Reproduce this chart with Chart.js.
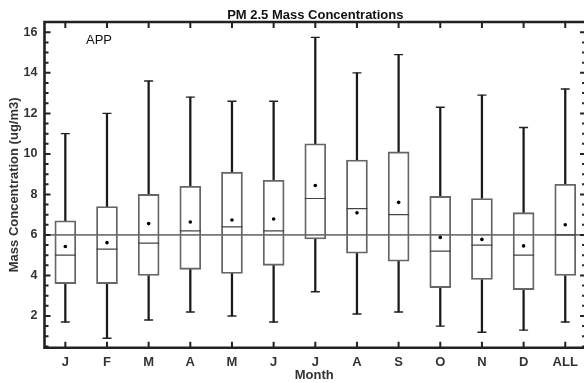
<!DOCTYPE html>
<html>
<head>
<meta charset="utf-8">
<script src="https://cdn.jsdelivr.net/npm/chart.js@4"></script>
<style>
  html, body { margin: 0; padding: 0; background: #fff; overflow: hidden; }
  #wrap { width: 584px; height: 383px; }
  canvas { display: block; }
</style>
</head>
<body>
<div id="wrap"><canvas id="pm_chart" width="584" height="383"></canvas></div>
<script>
// box plot values per month (ug/m3)
var months = ['J', 'F', 'M', 'A', 'M', 'J', 'J', 'A', 'S', 'O', 'N', 'D', 'ALL'];
var whiskerLow  = [1.7, 0.9, 1.8, 2.2, 2.0, 1.7, 3.2, 2.1, 2.2, 1.5, 1.2, 1.3, 1.7];
var q1          = [3.6, 3.6, 4.0, 4.3, 4.1, 4.5, 5.8, 5.1, 4.7, 3.4, 3.8, 3.3, 4.0];
var median      = [5.0, 5.3, 5.6, 6.2, 6.4, 6.2, 7.8, 7.3, 7.0, 5.2, 5.5, 5.0, 6.0];
var q3          = [6.7, 7.4, 8.0, 8.4, 9.1, 8.7, 10.5, 9.7, 10.1, 7.9, 7.8, 7.1, 8.5];
var whiskerHigh = [11.0, 12.0, 13.6, 12.8, 12.6, 12.6, 15.75, 14.0, 14.9, 12.3, 12.9, 11.3, 13.2];
var mean        = [5.43, 5.62, 6.56, 6.64, 6.74, 6.79, 8.44, 7.09, 7.61, 5.88, 5.78, 5.46, 6.5];
var refLevel = 6;
var yTicks = [2, 4, 6, 8, 10, 12, 14, 16];

var FONT = "'Liberation Sans', Arial, sans-serif";

function pts(vals) {
    return vals.map(function(v, i){ return {x: i + 1, y: v}; });
}
function ranges(lo, hi) {
    return lo.map(function(v, i){ return {x: i + 1, y: [v, hi[i]]}; });
}

// frame, inward ticks, title and site label
// (the right edge of the original frame sits just past the picture, at x = 13.5)
var framePlugin = {
    id: 'frame',
    afterDatasetsDraw: function(chart) {
        var ctx = chart.ctx, a = chart.chartArea;
        var xs = chart.scales.x, ys = chart.scales.y;
        var right = xs.getPixelForValue(13.5);
        ctx.save();
        ctx.strokeStyle = '#222';
        ctx.lineWidth = 2;
        ctx.beginPath();
        for (var v = 0.5; v <= 16.5; v += 0.5) {
            var py = ys.getPixelForValue(v);
            if (py < a.top + 1 || py > a.bottom - 1) continue;
            var len = (v % 2 === 0) ? 6 : 4;
            ctx.moveTo(a.left, py); ctx.lineTo(a.left + len, py);
            ctx.moveTo(right, py); ctx.lineTo(right - len, py);
        }
        months.forEach(function(m, i){
            var px = xs.getPixelForValue(i + 1);
            ctx.moveTo(px, a.bottom); ctx.lineTo(px, a.bottom - 6);
            ctx.moveTo(px, a.top); ctx.lineTo(px, a.top + 6);
        });
        ctx.stroke();
        ctx.lineWidth = 2.6;
        ctx.beginPath();
        ctx.moveTo(right, a.top); ctx.lineTo(a.left, a.top);
        ctx.lineTo(a.left, a.bottom); ctx.lineTo(right, a.bottom);
        ctx.lineTo(right, a.top);
        ctx.stroke();

        ctx.fillStyle = '#111';
        ctx.textAlign = 'center';
        ctx.textBaseline = 'alphabetic';
        ctx.font = 'bold 13px ' + FONT;
        ctx.fillText('PM 2.5 Mass Concentrations', (a.left + right) / 2, 18.5);
        ctx.textAlign = 'left';
        ctx.font = '13px ' + FONT;
        ctx.fillText('APP', 86, 44);
        ctx.restore();
    }
};

var ctx = document.getElementById('pm_chart').getContext('2d');
var pm_chart = new Chart(ctx, {
    type: 'bar',
    data: {
        datasets: [{
            type: 'line',
            data: [{x: 0.5, y: refLevel}, {x: 13.5, y: refLevel}],
            borderColor: '#111',
            borderWidth: 1,
            pointRadius: 0,
            order: 5
        },{
            data: ranges(q3, whiskerHigh),
            backgroundColor: '#1a1a1a',
            barThickness: 1.6,
            grouped: false,
            order: 4
        },{
            data: ranges(whiskerLow, q1),
            backgroundColor: '#1a1a1a',
            barThickness: 1.6,
            grouped: false,
            order: 4
        },{
            data: ranges(q1, q3),
            backgroundColor: 'rgba(0,0,0,0)',
            borderColor: '#666',
            borderWidth: 1.2,
            borderSkipped: false,
            barThickness: 21,
            grouped: false,
            order: 3
        },{
            type: 'line',
            showLine: false,
            data: pts(whiskerHigh).concat(pts(whiskerLow)),
            pointStyle: 'line',
            pointRadius: 4.5,
            borderColor: '#222',
            borderWidth: 1.4,
            order: 2
        },{
            type: 'line',
            showLine: false,
            data: pts(median),
            pointStyle: 'line',
            pointRadius: 10.5,
            borderColor: '#444',
            borderWidth: 1.2,
            order: 2
        },{
            type: 'line',
            showLine: false,
            data: pts(mean),
            pointStyle: 'circle',
            pointRadius: 1.8,
            backgroundColor: '#000',
            borderColor: '#000',
            borderWidth: 0,
            order: 1
        }]
    },
    options: {
        responsive: false,
        animation: false,
        devicePixelRatio: 1,
        layout: { autoPadding: false, padding: { top: 22, right: 0, left: 0, bottom: 0 } },
        plugins: {
            legend: { display: false },
            tooltip: { enabled: false }
        },
        scales: {
            x: {
                type: 'linear',
                offset: false,
                min: 0.5,
                max: 13.45,
                grid: { display: false, drawTicks: false, offset: false },
                border: { display: false },
                afterBuildTicks: function(s){ s.ticks = months.map(function(m, i){ return {value: i + 1}; }); },
                afterFit: function(s){ s.height = 35.3; s.paddingLeft = 0; s.paddingRight = 0; },
                ticks: {
                    autoSkip: false,
                    maxRotation: 0,
                    padding: 7,
                    color: '#333',
                    font: { family: FONT, size: 13, weight: 'bold' },
                    callback: function(v){ return months[Math.round(v) - 1]; }
                },
                title: {
                    display: true,
                    text: 'Month',
                    color: '#333',
                    padding: 0,
                    font: { family: FONT, size: 13, weight: 'bold' }
                }
            },
            y: {
                min: 0.435,
                max: 16.51,
                grid: { display: false, drawTicks: false },
                border: { display: false },
                afterBuildTicks: function(s){ s.ticks = yTicks.map(function(v){ return {value: v}; }); },
                afterFit: function(s){ s.width = 44.5; s.paddingTop = 0; s.paddingBottom = 0; },
                ticks: {
                    padding: 7,
                    color: '#333',
                    font: { family: FONT, size: 12.5, weight: 'bold' }
                },
                title: {
                    display: true,
                    text: 'Mass Concentration (ug/m3)',
                    color: '#333',
                    padding: { top: 7 },
                    font: { family: FONT, size: 13, weight: 'bold' }
                }
            }
        }
    },
    plugins: [framePlugin]
});
</script>
</body>
</html>
